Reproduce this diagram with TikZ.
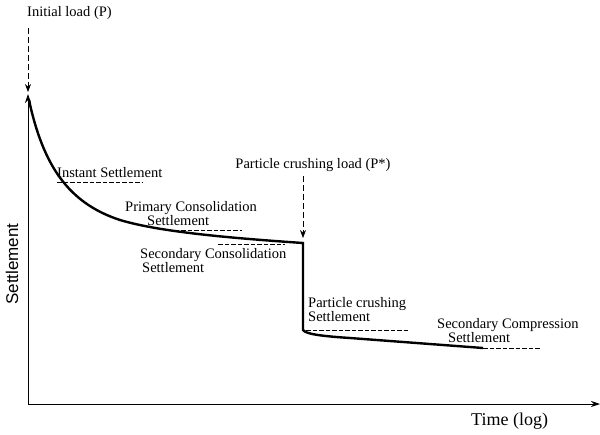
\documentclass[tikz,border=0pt]{standalone}
\usepackage{fontspec}
\setmainfont{Liberation Serif}
\newfontfamily\labelsans{Liberation Sans}
\usetikzlibrary{arrows.meta}
\begin{document}
\begin{tikzpicture}[x=1pt,y=-1pt,
  lbl/.style={font=\fontsize{14.5}{14}\selectfont, inner sep=0pt, align=left},
  guide/.style={draw, line width=0.6pt, dash pattern=on 4.5pt off 2pt},
  loadarrow/.style={draw, line width=0.7pt, dash pattern=on 6pt off 3pt, -{Stealth[length=8pt,width=6pt]}},
  axis/.style={draw, line width=0.9pt},
  curve/.style={draw, line width=2.4pt}]
\useasboundingbox (0,0) rectangle (600,434);
% axes
\coordinate (O) at (28,404);
\coordinate (ytop) at (28,94);
\coordinate (xend) at (600,404);
\draw[axis, -{Stealth[length=9pt,width=6pt]}] (O) -- (ytop);
\draw[axis, -{Stealth[length=9pt,width=6pt]}] (O) -- (xend);
\node[lbl, font=\fontsize{18}{19}\selectfont, anchor=west] (tlabel) at (471,421) {Time (log)};
\node[lbl, font=\labelsans\fontsize{17}{18}\selectfont, rotate=90] (slabel) at (12,264) {Settlement};
% loads
\node[lbl, anchor=west] (pinit) at (27,13) {Initial load (P)};
\coordinate (pa) at (28,28);
\coordinate (pb) at (28,92);
\draw[loadarrow] (pa) -- (pb);
\node[lbl] (pcr) at (313,165) {Particle crushing load (P*)};
\coordinate (pc) at (303,176);
\coordinate (pd) at (303,238);
\draw[loadarrow] (pc) -- (pd);
% curve
\coordinate (c0) at (29,100);
\coordinate (c1) at (303,243);
\coordinate (c2) at (303,330);
\coordinate (c3) at (483,348);
\draw[curve, line join=miter] (c0) .. controls (43,165) and (68,203) .. (120,220)
  .. controls (160,232) and (230,238) .. (c1) -- (c2)
  .. controls (306,334) and (320,336) .. (350,338) -- (c3);
% labels
\node[lbl, anchor=west] (inst) at (57,173) {Instant Settlement};
\coordinate (i1) at (57,182); \coordinate (i2) at (143,182);
\draw[guide] (i1) -- (i2);
\node[lbl, anchor=west] (prim) at (125,213.5) {Primary Consolidation\\\hspace*{22pt}Settlement};
\coordinate (p1) at (168,230); \coordinate (p2) at (242,230);
\draw[guide] (p1) -- (p2);
\node[lbl, anchor=west] (sec) at (140,260.5) {Secondary Consolidation\\\hspace*{2pt}Settlement};
\coordinate (s1) at (218,244); \coordinate (s2) at (285,244);
\draw[guide] (s1) -- (s2);
\node[lbl, anchor=west] (pcs) at (308,310) {Particle crushing\\Settlement};
\coordinate (q1) at (306,330); \coordinate (q2) at (408,330);
\draw[guide] (q1) -- (q2);
\node[lbl, anchor=west] (scs) at (437,330.5) {Secondary Compression\\\hspace*{11pt}Settlement};
\coordinate (r1) at (483,348); \coordinate (r2) at (541,348);
\draw[guide] (r1) -- (r2);
\end{tikzpicture}
\end{document}
